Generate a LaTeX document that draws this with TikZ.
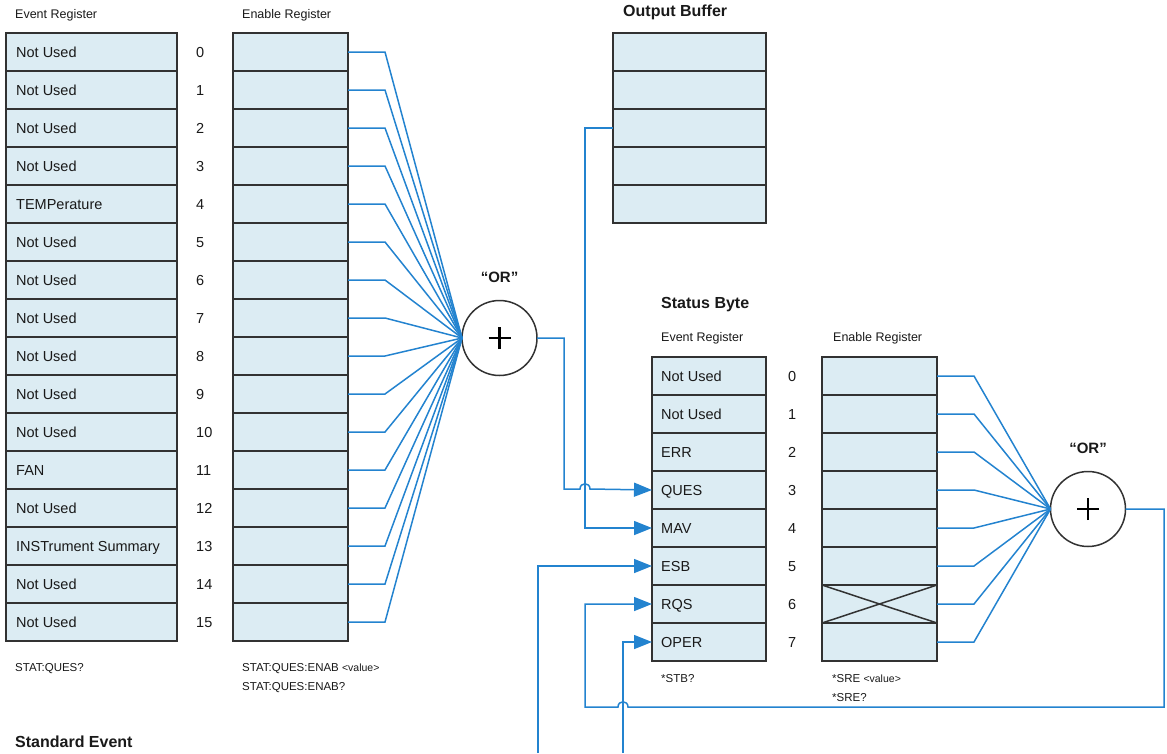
\documentclass[tikz,border=0pt]{standalone}
\usepackage{fontspec}
\setmainfont{Liberation Sans}
\usetikzlibrary{arrows.meta}
\definecolor{cellfill}{RGB}{220,236,243}
\definecolor{wirec}{RGB}{35,131,207}
\definecolor{framec}{RGB}{50,50,50}
\definecolor{txtc}{RGB}{25,25,25}
\tikzset{
 cell/.style={draw=framec, line width=1.8pt, fill=cellfill, minimum height=38pt, anchor=north west, inner sep=0pt, outer sep=0pt},
 celltext/.style={anchor=base west, font=\fontsize{14.5}{16}\selectfont, text=txtc, inner sep=0pt},
 num/.style={anchor=base west, font=\fontsize{14.5}{16}\selectfont, text=txtc, inner sep=0pt},
 head/.style={anchor=west, font=\fontsize{12.5}{14}\selectfont, text=txtc, inner sep=0pt},
 titletext/.style={anchor=west, font=\bfseries\fontsize{16}{18}\selectfont, text=txtc, inner sep=0pt},
 ortext/.style={anchor=center, font=\bfseries\fontsize{15}{17}\selectfont, text=txtc, inner sep=0pt},
 cmd/.style={anchor=west, font=\fontsize{11.5}{13}\selectfont, text=txtc, inner sep=0pt},
 wire/.style={draw=wirec, line width=1.5pt},
 arr/.style={wire, -{Triangle[length=18pt,width=14pt]}},
 orgate/.style={circle, draw=framec, line width=1.5pt, fill=white, minimum size=75pt, inner sep=0pt, outer sep=0pt},
 plus/.style={draw=black, line width=2.5pt},
}
\newcommand{\valtext}{{\fontsize{10.5}{12}\selectfont <value>}}
\begin{document}
\begin{tikzpicture}[x=1pt,y=-1pt]
\useasboundingbox (0,0) rectangle (1167,753);

% ---------- Questionable status registers ----------
\node[head] (qeh) at (15,15) {Event Register};
\node[head] (qnh) at (242,15) {Enable Register};
\foreach \t [count=\i from 0] in {Not Used,Not Used,Not Used,Not Used,TEMPerature,Not Used,Not Used,Not Used,Not Used,Not Used,Not Used,FAN,Not Used,INSTrument Summary,Not Used,Not Used} {
  \node[cell, minimum width=171pt] (qe\i) at (6,{33+38*\i}) {};
  \node[celltext] (qet\i) at ([xshift=10pt,yshift=-5.2pt]qe\i.west) {\t};
  \node[num] (qn\i) at (196,{57.2+38*\i}) {\i};
  \node[cell, minimum width=115pt] (qen\i) at (233,{33+38*\i}) {};
}
\node[cmd] (qc1) at (15,669) {STAT:QUES?};
\node[cmd] (qc2) at (242,669) {STAT:QUES:ENAB \valtext};
\node[cmd] (qc3) at (242,688) {STAT:QUES:ENAB?};

% OR gate 1
\node[orgate] (qor) at (499.5,338) {};
\draw[plus] ([xshift=-11pt]qor.center) -- ([xshift=11pt]qor.center);
\draw[plus] ([yshift=-11pt]qor.center) -- ([yshift=11pt]qor.center);
\node[ortext] (qorl) at (499.5,277) {“OR”};
\foreach \i in {0,...,15} \draw[wire] (qen\i.east) -- ++(37,0) -- (qor.west);

% ---------- Output buffer ----------
\node[titletext] (obt) at (623,12) {Output Buffer};
\foreach \i in {0,...,4} \node[cell, minimum width=153pt] (ob\i) at (613,{33+38*\i}) {};

% ---------- Status byte ----------
\node[titletext] (sbt) at (661,305) {Status Byte};
\node[head] (seh) at (661,338) {Event Register};
\node[head] (snh) at (833,338) {Enable Register};
\foreach \t [count=\i from 0] in {Not Used,Not Used,ERR,QUES,MAV,ESB,RQS,OPER} {
  \node[cell, minimum width=114pt] (se\i) at (652,{357+38*\i}) {};
  \node[celltext] (set\i) at ([xshift=9pt,yshift=-5.2pt]se\i.west) {\t};
  \node[num] (sn\i) at (788,{381.2+38*\i}) {\i};
  \node[cell, minimum width=115pt] (sen\i) at (822,{357+38*\i}) {};
}
\draw[draw=framec, line width=1.5pt] (sen6.north west) -- (sen6.south east) (sen6.south west) -- (sen6.north east);
\node[cmd] (sc1) at (661,679) {*STB?};
\node[cmd] (sc2) at (832,679) {*SRE \valtext};
\node[cmd] (sc3) at (832,698) {*SRE?};

% OR gate 2
\node[orgate] (sor) at (1088,509) {};
\draw[plus] ([xshift=-11pt]sor.center) -- ([xshift=11pt]sor.center);
\draw[plus] ([yshift=-11pt]sor.center) -- ([yshift=11pt]sor.center);
\node[ortext] (sorl) at (1088,448) {“OR”};
\foreach \i in {0,...,7} \draw[wire] (sen\i.east) -- ++(37,0) -- (sor.west);

% ---------- Connectors ----------
\coordinate (qj) at (564,489);
\coordinate (mj) at (585,528);
\coordinate (esbin) at (538,753);
\coordinate (operin) at (623,753);
\coordinate (rqsc) at (1164,707);
\draw[arr] (qor.east) -| (qj) -- (580,489) .. controls (580,482) and (590,482) .. (590,489) -- (se3.west);
\draw[arr] (ob2.west) -| (mj) -- (se4.west);
\draw[arr] (esbin) |- (se5.west);
\draw[arr] (operin) |- (se7.west);
\draw[arr] (sor.east) -| (rqsc) -- (628,707) .. controls (628,700) and (618,700) .. (618,707) -- (585,707) |- (se6.west);

% ---------- Standard event title ----------
\node[titletext] (set) at (15,742) {Standard Event};
\end{tikzpicture}
\end{document}
